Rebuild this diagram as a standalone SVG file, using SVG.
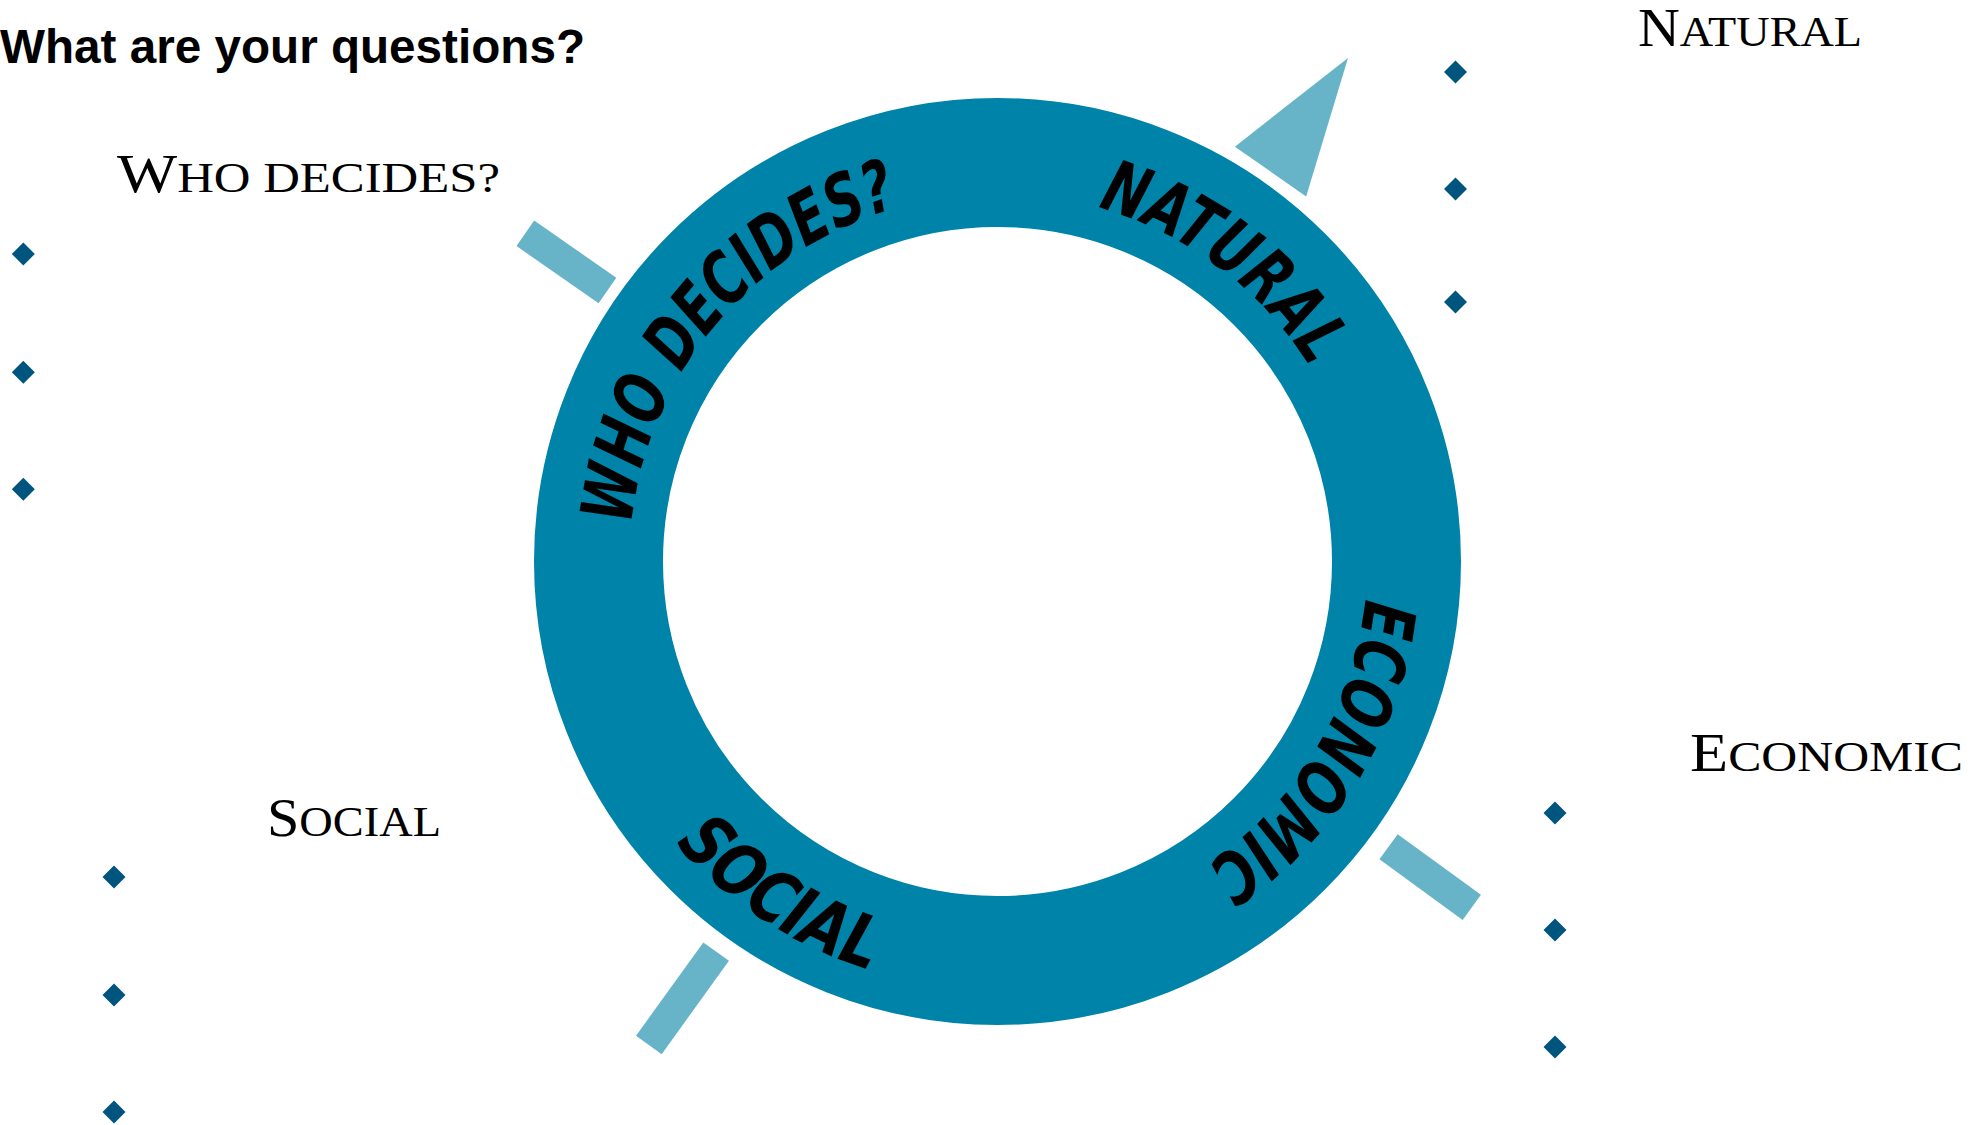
<svg xmlns="http://www.w3.org/2000/svg" width="1986" height="1125" viewBox="0 0 1986 1125">
<style>
  .title { font-family: "Liberation Sans", Arial, sans-serif; font-weight: bold; font-size: 48px; fill: #000; }
  .lbl { font-family: "Liberation Serif", "Times New Roman", serif; fill: #000; }
  .big { font-size: 54px; }
  .sm { font-size: 43px; }
  .ring { fill: none; stroke: #0083A9; stroke-width: 129; }
  .accent { fill: #67B4C9; }
  .bullet { fill: #00557F; }
  .hand { font-family: "DejaVu Sans Condensed", "DejaVu Sans", sans-serif; font-weight: bold; font-style: oblique; font-size: 72px; fill: #000; }
</style>
<defs>
  <polygon id="dia" points="0,-11.5 11.5,0 0,11.5 -11.5,0"/>
  <path id="pWho" d="M 629.5 561.5 A 368 368 0 0 1 933.6 199.1"/>
  <path id="pNat" d="M 978.2 194.0 A 368 368 0 0 1 1356.1 478.7"/>
  <path id="pEco" d="M 1361.9 498.1 A 368 368 0 0 1 1114.0 910.6"/>
  <path id="pSoc" d="M 588.2 686.6 A 428 428 0 0 0 1049.7 986.3"/>
</defs>

<text class="title" x="0" y="63" textLength="585" lengthAdjust="spacingAndGlyphs">What are your questions?</text>

<g id="ring">
  <circle class="ring" cx="997.5" cy="561.5" r="399"/>
</g>

<g id="connectors">
  <rect class="accent" transform="translate(997.5,561.5) rotate(-145.2)" x="475" y="-15.5" width="100" height="31"/>
  <polygon class="accent" transform="translate(997.5,561.5) rotate(-55)" points="476,-43.5 476,43.5 613.5,-1.7"/>
  <rect class="accent" transform="translate(997.5,561.5) rotate(36.1)" x="484" y="-15.5" width="103" height="31"/>
  <rect class="accent" transform="translate(997.5,561.5) rotate(125.8)" x="481" y="-15.8" width="115" height="31.6"/>
</g>

<g id="ring-labels">
  <text class="hand"><textPath href="#pWho" startOffset="50%" text-anchor="middle" textLength="442" lengthAdjust="spacingAndGlyphs">WHO DECIDES?</textPath></text>
  <text class="hand"><textPath href="#pNat" startOffset="50%" text-anchor="middle" textLength="272" lengthAdjust="spacingAndGlyphs">NATURAL</textPath></text>
  <text class="hand"><textPath href="#pEco" startOffset="50%" text-anchor="middle" textLength="322" lengthAdjust="spacingAndGlyphs">ECONOMIC</textPath></text>
  <text class="hand"><textPath href="#pSoc" startOffset="50%" text-anchor="middle" textLength="236" lengthAdjust="spacingAndGlyphs">SOCIAL</textPath></text>
</g>

<g id="node-who">
  <text class="lbl" x="117" y="192" textLength="383" lengthAdjust="spacingAndGlyphs"><tspan class="big">W</tspan><tspan class="sm">HO DECIDES?</tspan></text>
  <use href="#dia" class="bullet" x="23.3" y="254"/>
  <use href="#dia" class="bullet" x="23.3" y="372.3"/>
  <use href="#dia" class="bullet" x="23.3" y="489.3"/>
</g>

<g id="node-natural">
  <text class="lbl" x="1638" y="46" textLength="224" lengthAdjust="spacingAndGlyphs"><tspan class="big">N</tspan><tspan class="sm">ATURAL</tspan></text>
  <use href="#dia" class="bullet" x="1455.5" y="72"/>
  <use href="#dia" class="bullet" x="1455.5" y="189"/>
  <use href="#dia" class="bullet" x="1455.5" y="302"/>
</g>

<g id="node-economic">
  <text class="lbl" x="1690" y="771" textLength="273" lengthAdjust="spacingAndGlyphs"><tspan class="big">E</tspan><tspan class="sm">CONOMIC</tspan></text>
  <use href="#dia" class="bullet" x="1555" y="813"/>
  <use href="#dia" class="bullet" x="1555" y="930"/>
  <use href="#dia" class="bullet" x="1555" y="1047"/>
</g>

<g id="node-social">
  <text class="lbl" x="267" y="836" textLength="174" lengthAdjust="spacingAndGlyphs"><tspan class="big">S</tspan><tspan class="sm">OCIAL</tspan></text>
  <use href="#dia" class="bullet" x="114" y="877"/>
  <use href="#dia" class="bullet" x="114" y="995"/>
  <use href="#dia" class="bullet" x="114" y="1112"/>
</g>
</svg>
